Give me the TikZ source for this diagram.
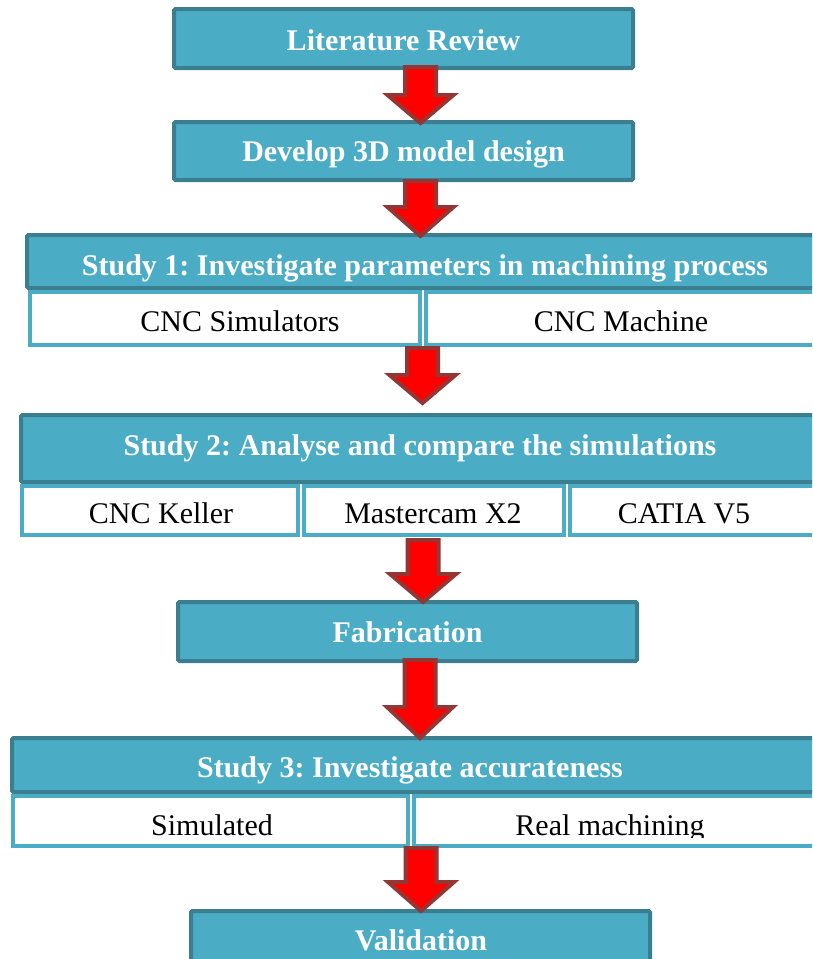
\documentclass[tikz,border=0pt]{standalone}
\usepackage{fontspec}
\setmainfont{Liberation Serif}
\frenchspacing
\definecolor{hdrfill}{HTML}{4BACC6}
\definecolor{hdrborder}{HTML}{3A7E90}
\definecolor{cellborder}{HTML}{4BACC6}
\definecolor{arrborder}{HTML}{943634}
\newcommand{\blockarrow}[4]{%
  \draw[blockarr, shift={(#1,0)}] (-15.5,#2) -- (15.5,#2) -- (15.5,#3) -- (33,#3) -- (0,#4) -- (-33,#3) -- (-15.5,#3) -- cycle;}
\begin{document}
\begin{tikzpicture}[x=1pt,y=-1pt,
  hdr/.style={draw=hdrborder, fill=hdrfill, line width=4pt, rounded corners=1.5pt, outer sep=0pt, inner sep=0pt, anchor=north west},
  cell/.style={draw=cellborder, fill=white, line width=3.5pt, outer sep=0pt, inner sep=0pt, anchor=north west},
  htext/.style={anchor=base, text=white, font=\fontsize{30}{36}\selectfont\bfseries\frenchspacing, inner sep=0pt},
  ctext/.style={anchor=base, text=black, font=\fontsize{30}{36}\selectfont\frenchspacing, inner sep=0pt},
  blockarr/.style={draw=arrborder, fill=red, line width=4pt, line join=miter}]
\useasboundingbox (0,0) rectangle (812,959);
\clip (0,0) rectangle (812,959);

% boxes
\node[hdr, minimum width=459pt, minimum height=59pt] (lit) at (174,9) {};
\node[hdr, minimum width=459pt, minimum height=58pt] (dev) at (174,122) {};

\node[hdr, minimum width=820pt, minimum height=53pt] (s1) at (27,235) {};
\node[cell, minimum width=390pt, minimum height=53pt] (s1a) at (30,292) {};
\node[cell, minimum width=420pt, minimum height=53pt] (s1b) at (426,292) {};

\node[hdr, minimum width=820pt, minimum height=67pt] (s2) at (21,415) {};
\node[cell, minimum width=276pt, minimum height=49pt] (s2a) at (22,486) {};
\node[cell, minimum width=260pt, minimum height=49pt] (s2b) at (304,486) {};
\node[cell, minimum width=260pt, minimum height=49pt] (s2c) at (570,486) {};

\node[hdr, minimum width=459pt, minimum height=59pt] (fab) at (178,602) {};

\node[hdr, minimum width=820pt, minimum height=54pt] (s3) at (12,738) {};
\node[cell, minimum width=395pt, minimum height=50pt] (s3a) at (13,796) {};
\node[cell, minimum width=420pt, minimum height=50pt] (s3b) at (414,796) {};

\node[hdr, minimum width=459pt, minimum height=62pt] (val) at (191,911) {};

% texts
\node[htext] (tlit) at (403.5,50) {Literature Review};
\node[htext] (tdev) at (403.5,161) {Develop 3D model design};
\node[htext] (ts1) at (425,275) {Study 1: Investigate parameters in machining process};
\node[ctext] (ts1a) at (240,331) {CNC Simulators};
\node[ctext] (ts1b) at (621,331) {CNC Machine};
\node[htext] (ts2) at (420,455) {Study 2: Analyse and compare the simulations};
\node[ctext] (ts2a) at (161,523) {CNC Keller};
\node[ctext] (ts2b) at (433,523) {Mastercam X2};
\node[ctext] (ts2c) at (684,523) {CATIA V5};
\node[htext] (tfab) at (407.5,642) {Fabrication};
\node[htext] (ts3) at (410,777) {Study 3: Investigate accurateness};
\begin{scope}
  \clip (0,790) rectangle (812,837);
  \node[ctext] (ts3a) at (212,835) {Simulated};
  \node[ctext] (ts3b) at (610,835) {Real machining};
\end{scope}
\node[htext] (tval) at (421,950) {Validation};

% arrows
\blockarrow{420.5}{67}{95}{123}
\blockarrow{420.5}{181}{207}{236}
\blockarrow{422.5}{348}{375}{403}
\blockarrow{423}{540}{574}{602}
\blockarrow{420}{660}{707}{738}
\blockarrow{421}{848}{882}{911}
\end{tikzpicture}
\end{document}
